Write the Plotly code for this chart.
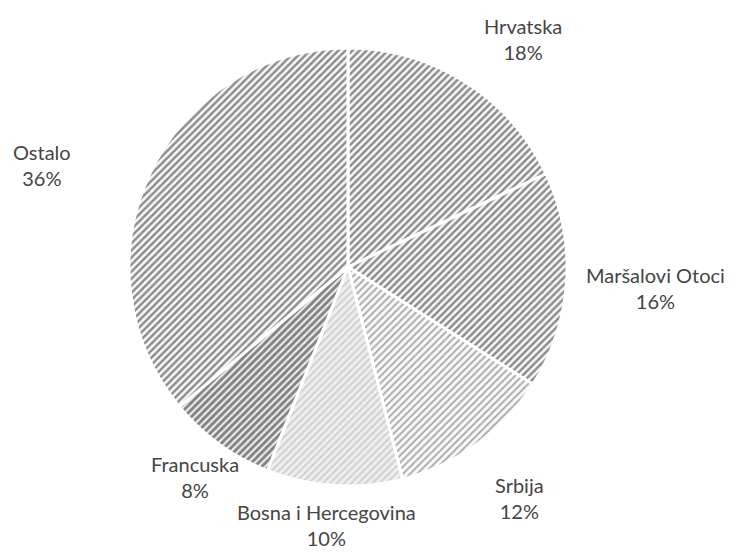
import math
import plotly.graph_objects as go

# ---- data ----
countries = ["Hrvatska", "Maršalovi Otoci", "Srbija", "Bosna i Hercegovina", "Francuska", "Ostalo"]
shares = [18, 16, 12, 10, 8, 36]

# ---- style ----
W, H = 744, 552
CX, CY, R = 348, 267, 219          # pie centre / radius in pixels
pattern_fg = ["#1e1e1e", "#1e1e1e", "#5e5e5e", "#b0b0b0", "#141414", "#202020"]
pattern_bg = ["#f8f8f8", "#f8f8f8", "#fafafa", "#eeeeee", "#eeeeee", "#f8f8f8"]
pattern_sol = [0.48, 0.48, 0.4, 0.35, 0.58, 0.48]
label_dist = [286, 308, 285, 262, 260, 323]   # distance of label centre from pie centre
label_nudge = [(22, 13), (0, 2), (4, 0), (-5, -3), (0, 0), (-14, 36)]  # px fine-tuning

fig = go.Figure()
fig.add_trace(go.Pie(
    labels=countries,
    values=shares,
    sort=False,
    direction="clockwise",
    rotation=0,
    textinfo="none",
    hoverinfo="skip",
    showlegend=False,
    marker=dict(
        colors=pattern_bg,
        line=dict(color="white", width=3),
        pattern=dict(shape="/", fgcolor=pattern_fg, bgcolor=pattern_bg,
                     size=5, solidity=pattern_sol, fillmode="overlay"),
    ),
    domain=dict(x=[(CX - R) / W, (CX + R) / W],
                y=[1 - (CY + R) / H, 1 - (CY - R) / H]),
))

# labels at mid-angle of each slice
total = sum(shares)
cum = 0
annotations = []
for name, v, d, (nx, ny) in zip(countries, shares, label_dist, label_nudge):
    mid = (cum + v / 2) / total * 2 * math.pi
    cum += v
    px = CX + d * math.sin(mid) + nx
    py = CY - d * math.cos(mid) + ny
    annotations.append(dict(
        x=px / W, y=1 - py / H, xref="paper", yref="paper",
        text=f"{name}<br>{v}%", showarrow=False,
        xanchor="center", yanchor="middle", align="center",
        font=dict(family="Lato", size=20, color="#454545"),
    ))

fig.update_layout(
    width=W, height=H,
    margin=dict(l=0, r=0, t=0, b=0),
    paper_bgcolor="white", plot_bgcolor="white",
    annotations=annotations,
)

fig.write_html("out.html", config={"displayModeBar": False},
               post_script="document.body.style.margin='0';")
